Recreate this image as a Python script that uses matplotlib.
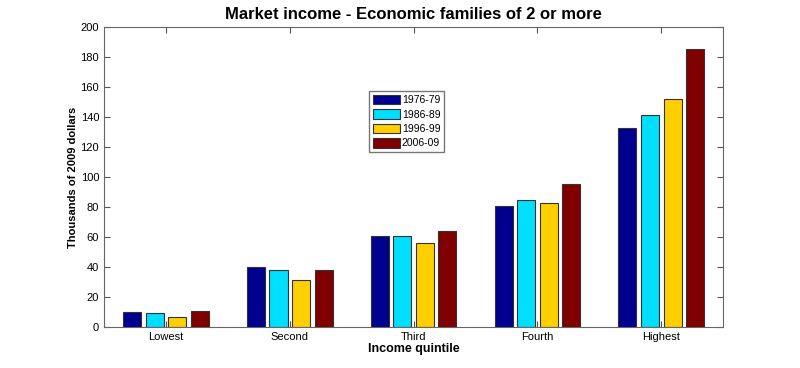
import matplotlib.pyplot as plt
import numpy as np

plt.rcParams['font.family'] = ['Liberation Sans Narrow', 'Liberation Sans', 'DejaVu Sans']

quintiles = ['Lowest', 'Second', 'Third', 'Fourth', 'Highest']
periods = ['1976-79', '1986-89', '1996-99', '2006-09']
v1976 = [10.3, 40.0, 60.5, 81.0, 132.5]
v1986 = [9.2, 37.8, 60.5, 84.5, 141.5]
v1996 = [6.5, 31.5, 56.0, 83.0, 152.0]
v2006 = [10.7, 38.2, 64.0, 95.5, 185.5]
colors = ['#00008F', '#00DFFF', '#FFCF00', '#800000']

fig = plt.figure(figsize=(8, 3.68), dpi=100)
ax = fig.add_axes([0.13, 0.111, 0.774, 0.816])

x = np.arange(1, len(quintiles) + 1)
step = 0.182
w = step * 0.8
for i, vals in enumerate([v1976, v1986, v1996, v2006]):
    ax.bar(x + (i - 1.5) * step, vals, w, color=colors[i], edgecolor='#333333',
           linewidth=0.8, label=periods[i])

ax.set_xlim(0.5, 5.5)
ax.set_ylim(0, 200)
ax.set_yticks(range(0, 201, 20))
ax.set_xticks(x)
ax.set_xticklabels(quintiles)
ax.tick_params(direction='in', top=True, right=True, labelsize=8, length=4, color='#555555')
for s in ax.spines.values():
    s.set_color('#666666')

ax.set_title('Market income - Economic families of 2 or more', fontsize=12, fontweight='bold')
ax.set_xlabel('Income quintile', fontsize=9, fontweight='bold', labelpad=1)
ax.set_ylabel('Thousands of 2009 dollars', fontsize=8, fontweight='bold',
              family=['Liberation Sans', 'DejaVu Sans'], labelpad=2)
ax.legend(loc='upper left', bbox_to_anchor=(0.428, 0.785), fontsize=7.5, fancybox=False,
          edgecolor='#555555', handlelength=2.6, handleheight=1.0, labelspacing=0.4,
          borderpad=0.35, handletextpad=0.2, borderaxespad=0)

plt.savefig('out.png', dpi=100)
